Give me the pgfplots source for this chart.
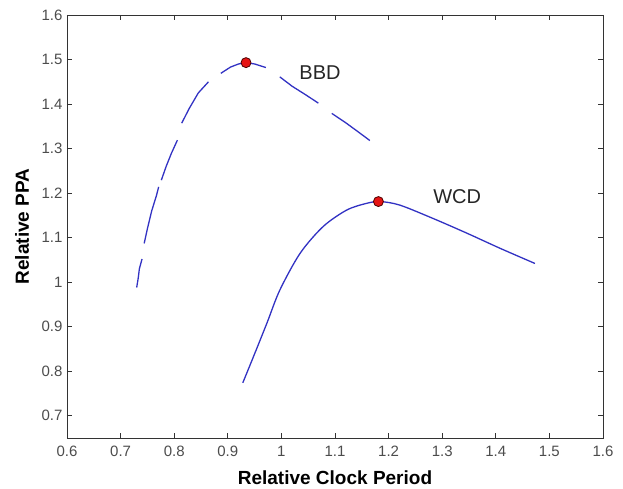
\documentclass[border=0pt]{standalone}
\usepackage{fontspec}
\setmainfont{Liberation Sans}
\usepackage{pgfplots}
\pgfplotsset{compat=1.18}
\definecolor{mblue}{RGB}{50,50,195}
\definecolor{mred}{RGB}{230,20,20}

\begin{document}
\begin{tikzpicture}
\begin{axis}[
    scale only axis,
    width=536pt, height=423pt,
    xmin=0.6, xmax=1.6, ymin=0.65, ymax=1.6,
    xtick={0.6,0.7,...,1.61},
    ytick={0.7,0.8,...,1.61},
    tick align=inside,
    major tick length=5pt,
    axis line style={line width=0.9pt, black!80},
    every tick/.style={black!80, line width=0.8pt},
    ticklabel style={font=\fontsize{15}{18}\selectfont, text=black!70},
    /pgf/number format/assume math mode=true,
    xticklabel style={yshift=-5pt},
    yticklabel style={xshift=-1pt},
    xlabel={\textbf{Relative Clock Period}},
    ylabel={\textbf{Relative PPA}},
    label style={font=\fontsize{19}{22}\selectfont},
    xlabel style={at={(axis description cs:0.5,0)}, anchor=center, yshift=-40pt},
    ylabel style={at={(axis description cs:0,0.5)}, anchor=center, yshift=45pt},
    unbounded coords=jump,
    clip=false,
]
% BBD (broken dashes as in original)
\addplot[mblue, line width=1.3pt] coordinates {
    (0.730,0.988) (0.733,1.010) (0.735,1.030) (0.740,1.052)
    (0.741,nan)
    (0.744,1.087) (0.750,1.120) (0.758,1.160) (0.767,1.195) (0.771,1.214)
    (0.772,nan)
    (0.776,1.229) (0.785,1.260) (0.795,1.290) (0.806,1.319)
    (0.807,nan)
    (0.814,1.357) (0.828,1.390) (0.845,1.425) (0.864,1.450)
    (0.870,nan)
    (0.887,1.469) (0.905,1.483) (0.920,1.490) (0.934,1.493) (0.950,1.490) (0.971,1.482)
    (0.980,nan)
    (0.997,1.461) (1.020,1.440) (1.045,1.421) (1.069,1.402)
    (1.080,nan)
    (1.094,1.379) (1.120,1.358) (1.145,1.336) (1.165,1.318)
};
% WCD
\addplot[mblue, line width=1.3pt, smooth] coordinates {
    (0.928,0.774) (0.948,0.833) (0.973,0.908) (0.997,0.982)
    (1.035,1.065) (1.078,1.125) (1.122,1.162) (1.159,1.177)
    (1.184,1.181) (1.221,1.173) (1.283,1.143) (1.346,1.110)
    (1.408,1.076) (1.473,1.042)
};
% optimum points
\addplot[only marks, mark=*, mark size=5pt,
    mark options={fill=mred, draw=black!70!red, line width=0.8pt}] coordinates {
    (0.934,1.493) (1.181,1.181)
};
\node[font=\fontsize{20}{24}\selectfont, text=black!85] at (axis cs:1.072,1.470) {BBD};
\node[font=\fontsize{20}{24}\selectfont, text=black!85] at (axis cs:1.328,1.193) {WCD};
\end{axis}
\path ([shift={(-67pt,-47pt)}]current axis.south west) rectangle ([shift={(20pt,15pt)}]current axis.north east);
\end{tikzpicture}
\end{document}
